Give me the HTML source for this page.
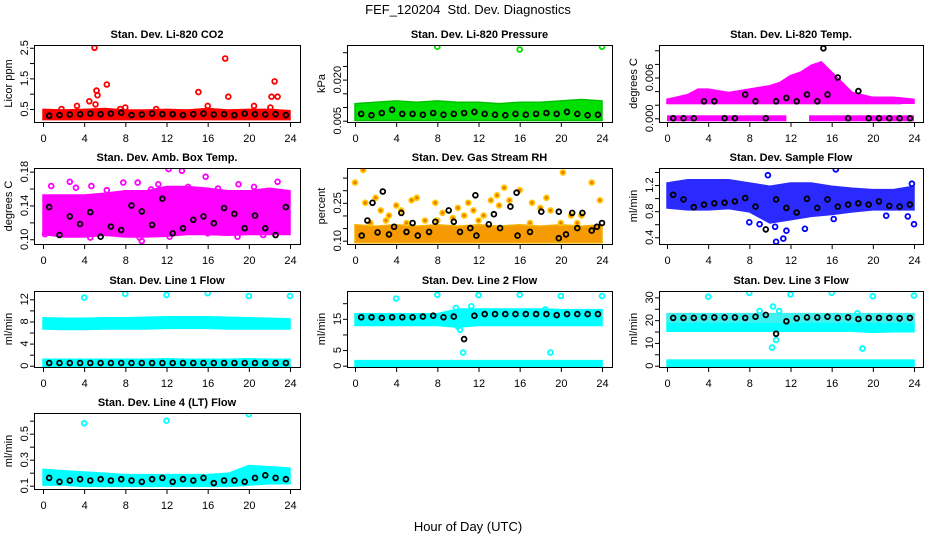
<!DOCTYPE html>
<html><head><meta charset="utf-8">
<style>
html,body{margin:0;padding:0;background:#fff;}
svg{display:block;font-family:"Liberation Sans",sans-serif;}
</style></head>
<body>
<svg id="chart" width="936" height="540" viewBox="0 0 936 540" xmlns="http://www.w3.org/2000/svg">
<text x="468" y="14" text-anchor="middle" font-size="13" style="white-space:pre">FEF_120204  Std. Dev. Diagnostics</text>
<text x="468" y="531" text-anchor="middle" font-size="13">Hour of Day (UTC)</text>
</svg>
<script>
const bandHours = [0,2,4,6,8,10,12,14,16,18,20,22,24];
const blackHours = [0.6,1.6,2.6,3.6,4.6,5.6,6.6,7.6,8.6,9.6,10.6,11.6,12.6,13.6,14.6,15.6,16.6,17.6,18.6,19.6,20.6,21.6,22.6,23.6];
const xTicks = [0,4,8,12,16,20,24];

// CO2
const co2Lo = [0.22,0.22,0.22,0.22,0.22,0.22,0.22,0.22,0.22,0.22,0.22,0.22,0.22];
const co2Hi = [0.42,0.4,0.42,0.45,0.4,0.4,0.42,0.4,0.45,0.4,0.42,0.42,0.38];
const co2Black = [0.28,0.3,0.32,0.33,0.35,0.33,0.35,0.38,0.3,0.32,0.35,0.33,0.33,0.3,0.33,0.35,0.32,0.33,0.3,0.35,0.33,0.32,0.33,0.3];
const co2OutX = [5,17.7,22.5,6.2,5.2,5.3,15.1,18,22.2,22.8,4.5,5.1,3.3,16,20.5,22.1,8,7.5,1.8,11];
const co2OutY = [2.5,2.15,1.4,1.3,1.1,0.95,1.05,0.9,0.9,0.9,0.75,0.65,0.6,0.6,0.6,0.55,0.55,0.5,0.5,0.5];

// Pressure
const presLo = [0.0058,0.0058,0.0058,0.0058,0.0058,0.0058,0.0058,0.0058,0.0058,0.0058,0.0058,0.0058,0.0058];
const presHi = [0.0105,0.011,0.0115,0.011,0.0115,0.011,0.011,0.0105,0.011,0.011,0.0115,0.012,0.0115];
const presBlack = [0.0075,0.007,0.0078,0.009,0.0075,0.0075,0.0072,0.0078,0.0072,0.0075,0.0078,0.0082,0.0075,0.0072,0.007,0.0075,0.0072,0.0075,0.0078,0.0075,0.0082,0.0075,0.007,0.0072];
const presOutX = [8,16,24];
const presOutY = [0.032,0.031,0.032];

// Li-820 Temp
const tempZeroStart = [0,13.8];
const tempZeroEnd = [11.6,24];
const tempMidStart = [0];
const tempMidEnd = [22.8];
const tempMidLevel = [0.0025];
const tempCloudX = [0,2,3,4,6,8,10,11,12,13,14,15,16,17,18,20,22,24];
const tempCloudHi = [0.0025,0.0032,0.004,0.004,0.0035,0.004,0.0045,0.005,0.006,0.0065,0.0075,0.008,0.0065,0.005,0.0035,0.0028,0.0028,0.0025];
const tempCloudLo = [0.0025,0.0025,0.0025,0.0025,0.0025,0.0025,0.0025,0.0025,0.0025,0.0025,0.0025,0.0025,0.0025,0.0025,0.0025,0.0025,0.0025,0.0025];
const tempBlack = [0,0,0,0.0025,0.0025,0,0,0.0035,0.0025,0,0.0025,0.003,0.0025,0.0035,0.0025,0.0035,0.006,0,0.004,0,0,0,0,0];
const tempOutX = [15.2];
const tempOutY = [0.0103];

// Amb box temp
const ambLo = [0.108,0.105,0.105,0.107,0.105,0.105,0.106,0.108,0.108,0.107,0.108,0.108,0.108];
const ambHi = [0.15,0.15,0.15,0.152,0.155,0.155,0.16,0.16,0.158,0.155,0.155,0.158,0.155];
const ambOutX = [0.8,2.6,4.7,7.8,9.2,11.2,12.2,13.5,14.1,15.8,17,19,20.5,22.8,9.6,9.4,12.3,18.9,4.6,0.2,21.4,16,3.2,6.2,10.5];
const ambOutY = [0.163,0.168,0.163,0.167,0.167,0.165,0.183,0.181,0.162,0.174,0.16,0.165,0.162,0.168,0.098,0.102,0.103,0.103,0.102,0.106,0.105,0.107,0.161,0.158,0.159];
const ambBlack = [0.138,0.105,0.127,0.118,0.132,0.103,0.115,0.111,0.14,0.133,0.117,0.148,0.107,0.113,0.123,0.127,0.119,0.137,0.13,0.113,0.128,0.113,0.105,0.138];

// Gas RH
const rhLo = [0.1,0.1,0.1,0.1,0.1,0.1,0.1,0.1,0.1,0.1,0.1,0.1,0.1];
const rhHi = [0.155,0.15,0.155,0.15,0.155,0.15,0.155,0.15,0.155,0.15,0.155,0.15,0.155];
const rhOutX = [0.8,0,20.2,23,14.5,16,1,2,2.5,3.3,4,4.5,5.5,6,7.8,8.5,9.5,10,11,11.5,12.5,13.2,14,15,17.2,18,19,21,22,23.8,3,6.8,8,12,17,20,21.6,1.5,5,13.8,18.6,10.6];
const rhOutY = [0.38,0.33,0.37,0.33,0.31,0.30,0.25,0.27,0.22,0.2,0.24,0.22,0.26,0.27,0.25,0.21,0.19,0.23,0.25,0.22,0.2,0.26,0.24,0.26,0.25,0.23,0.22,0.2,0.2,0.26,0.18,0.18,0.18,0.18,0.17,0.17,0.17,0.17,0.17,0.28,0.27,0.2];
const rhBlackX = [0.65,1.2,1.7,2.7,2.2,3.3,3.8,4.5,5,5.6,6.1,7.2,7.8,9.1,9.6,10.2,11.2,11.7,11.8,13,13.5,14.1,15.7,15.8,15.1,17,18.1,19.8,19.8,20.5,21.1,22.1,21.6,23,23.5,24];
const rhBlackY = [0.12,0.18,0.25,0.295,0.133,0.125,0.155,0.21,0.135,0.17,0.12,0.135,0.175,0.22,0.175,0.135,0.15,0.28,0.12,0.165,0.205,0.15,0.29,0.12,0.235,0.135,0.215,0.215,0.11,0.125,0.21,0.21,0.15,0.14,0.155,0.17];

// Sample flow
const sfLo = [0.88,0.85,0.85,0.87,0.82,0.65,0.7,0.75,0.78,0.82,0.85,0.85,0.85];
const sfHi = [1.2,1.25,1.25,1.25,1.2,1.15,1.2,1.2,1.15,1.12,1.1,1.1,1.15];
const sfOutX = [9.8,16.4,10.6,11.3,11.6,13.4,8,24,9,16.2,21.3,23.4,10.5,23.8];
const sfOutY = [1.35,1.44,0.33,0.38,0.5,0.53,0.63,0.6,0.6,0.68,0.73,0.72,0.56,1.22];
const sfBlack = [1.05,0.98,0.86,0.9,0.92,0.93,0.95,1.0,0.87,0.52,0.98,0.85,0.78,0.99,0.85,0.98,0.87,0.9,0.92,0.9,0.95,0.88,0.87,0.9];

// Line 1
const l1Lo = [7.0,6.9,6.9,7.0,7.0,7.0,7.1,7.1,7.1,7.0,7.0,7.0,7.0];
const l1Hi = [8.3,8.2,8.2,8.3,8.3,8.4,8.5,8.5,8.5,8.4,8.3,8.2,8.1];
const l1ZeroLo = [0,0,0,0,0,0,0,0,0,0,0,0,0];
const l1ZeroHi = [0.8,0.8,0.8,0.8,0.8,0.8,0.9,0.8,0.8,0.8,0.9,0.8,0.8];
const l1OutX = [4,8,12,16,20,24];
const l1OutY = [12.3,13,12.8,13.1,12.6,12.6];
const l1Black = [0.5,0.5,0.5,0.5,0.5,0.5,0.5,0.5,0.5,0.5,0.5,0.5,0.5,0.5,0.5,0.5,0.5,0.5,0.5,0.5,0.5,0.5,0.5,0.5];

// Line 2
const l2Lo = [13.5,13.5,13.5,13.5,13.5,13,13.5,13.5,13.5,13.5,13.5,13.5,13.5];
const l2Hi = [16,16,16,16,16,17.5,17.5,17.5,17.5,17.5,17.3,17.3,17.3];
const l2ZeroLo = [0,0,0,0,0,0,0,0,0,0,0,0,0];
const l2ZeroHi = [1.0,1.0,1.0,1.0,1.0,1.0,1.0,1.0,1.0,1.0,1.0,1.0,1.0];
const l2OutX = [4,8,12,16,20,24,10.5,19,10.2,10,11.3,9.8,18.5];
const l2OutY = [21.5,22.7,22.6,22.7,22.3,22.3,4.2,4.2,11.5,12.5,19,18.5,18];
const l2Black = [15.5,15.5,15.3,15.5,15.5,15.5,15.7,16,15.5,15.7,8.5,16,16.5,16.5,16.5,16.5,16.5,16.5,16.5,16.2,16.5,16.5,16.5,16.5];

// Line 3
const l3Lo = [16,16,16,16,16,16,16,16,16,16,15.5,15.8,15.8];
const l3Hi = [18.3,18.3,18.3,18.3,18.3,18.5,18.5,18.5,18.5,18.3,18.3,18.3,18.3];
const l3ZeroLo = [0.5,0.5,0.5,0.5,0.5,0.5,0.5,0.5,0.5,0.5,0.5,0.5,0.5];
const l3ZeroHi = [1.6,1.6,1.6,1.6,1.6,1.6,1.6,1.6,1.6,1.6,1.6,1.6,1.6];
const l3UpLo = [20,20,20,20,20,20,20,20,20,20,20,20,20];
const l3UpHi = [22,22,22,22,22,22,22,22,22,22,22,22,22];
const l3OutX = [4,8,12,16,20,24,10.2,10.6,10.3,10.9,19,9,18.5];
const l3OutY = [30.3,32,31.3,32,30.5,30.8,8,11.3,26,24,7.5,24,23];
const l3Black = [21,21,21,21.2,21.2,21.2,21.2,21,21.5,22.3,14,19.5,20.8,21.2,21.2,21.5,21,21.2,20.5,21,21,21,20.8,21];

// Line 4
const l4Lo = [0.12,0.12,0.11,0.11,0.11,0.11,0.11,0.11,0.11,0.11,0.12,0.13,0.13];
const l4Hi = [0.21,0.2,0.19,0.18,0.17,0.17,0.17,0.17,0.17,0.18,0.24,0.23,0.22];
const l4OutX = [4,12,20];
const l4OutY = [0.58,0.6,0.65];
const l4Black = [0.16,0.13,0.14,0.15,0.14,0.15,0.14,0.15,0.14,0.13,0.15,0.16,0.13,0.15,0.14,0.16,0.12,0.14,0.14,0.13,0.16,0.18,0.16,0.15];

const svg = document.getElementById('chart');
const NS = 'http://www.w3.org/2000/svg';
const cols = [[34,300,43,290],[347,612,355,602],[659,923,667,914]];
const rows = [[45,122],[168,244],[291,367],[413,489]];

function mk(tag, attrs, parent){
  const e = document.createElementNS(NS, tag);
  for (const k in attrs) e.setAttribute(k, attrs[k]);
  (parent||svg).appendChild(e);
  return e;
}
function fmt(v, d){ return v.toFixed(d); }

function panel(p){
  const c = cols[p.col], r = rows[p.row];
  const g = mk('g', {});
  
  
  const sx = h => c[2] + h*(c[3]-c[2])/24;
  const sy = v => r[1] - (v - p.ymin)/(p.ymax - p.ymin)*(r[1]-r[0]);
  const cid = 'clip-' + p.name;
  const cp = mk('clipPath', {id: cid}, g);
  mk('rect', {x: c[0], y: r[0], width: c[1]-c[0], height: r[1]-r[0]}, cp);
  const plot = mk('g', {'clip-path': 'url(#' + cid + ')'}, g);
  (p.bands||[]).forEach((b, bi) => {
    let d = '';
    b.x.forEach((h,i) => { d += (i ? 'L' : 'M') + sx(h).toFixed(1) + ' ' + (sy(b.hi[i]) - 2).toFixed(1); });
    for (let i = b.x.length - 1; i >= 0; i--) d += 'L' + sx(b.x[i]).toFixed(1) + ' ' + (sy(b.lo[i]) + 2).toFixed(1);
    const e = mk('path', {d: d + 'Z', fill: b.color, stroke: b.stroke || b.color, 'stroke-width': 1.5}, plot);
    
    
  });
  (p.lines||[]).forEach(l => {
    l.start.forEach((s, i) => {
      const e = mk('rect', {x: sx(s), y: sy(l.level[i] !== undefined ? l.level[i] : l.level[0]) - 3, width: sx(l.end[i]) - sx(s), height: 6, fill: l.color}, plot);
      
      
    });
  });
  (p.points||[]).forEach(s => {
    s.x.forEach((h, i) => {
      const e = mk('circle', {cx: sx(h).toFixed(1), cy: sy(s.y[i]).toFixed(1), r: 2.4, fill: s.fill || 'none', stroke: s.color, 'stroke-width': 1.8}, plot);
      
      
    });
  });
  const box = mk('rect', {x: c[0]+0.5, y: r[0]+0.5, width: c[1]-c[0], height: r[1]-r[0], fill: 'none', stroke: '#000', 'stroke-width': 1}, g);
  
  
  mk('line', {x1: sx(0), x2: sx(24), y1: r[1]+0.5, y2: r[1]+0.5, stroke: '#000'}, g);
  xTicks.forEach(t => {
    mk('line', {x1: sx(t)+0.5, x2: sx(t)+0.5, y1: r[1], y2: r[1]+5, stroke: '#000'}, g);
    const tx = mk('text', {x: sx(t)+0.5, y: r[1]+20, 'text-anchor': 'middle', 'font-size': 11}, g);
    tx.textContent = t;
    
    
  });
  p.ticks.forEach(t => {
    mk('line', {x1: c[0]-4, x2: c[0], y1: sy(t)+0.5, y2: sy(t)+0.5, stroke: '#000'}, g);
  });
  p.labels.forEach(t => {
    const y = sy(t), x = c[0]-6;
    const tx = mk('text', {x: x, y: y, 'text-anchor': 'middle', 'font-size': 11, transform: 'rotate(-90 ' + x + ' ' + y + ')'}, g);
    tx.textContent = fmt(t, p.dec);
    
    
  });
  const ym = (r[0]+r[1])/2, yx = c[0]-22;
  const yt = mk('text', {x: yx, y: ym, 'text-anchor': 'middle', 'font-size': 11, transform: 'rotate(-90 ' + yx + ' ' + ym + ')'}, g);
  yt.textContent = p.ylabel;
  
  
  const tt = mk('text', {x: (c[0]+c[1])/2, y: r[0]-7, 'text-anchor': 'middle', 'font-size': 11, 'font-weight': 'bold'}, g);
  tt.textContent = p.title;
  
  
}

const blk = (x, y) => ({x: x, y: y, color: '#000', label: 'hourly-mean-point'});

panel({name:'co2', col:0, row:0, ymin:0.075, ymax:2.59, ticks:[0.5,1,1.5,2,2.5], labels:[0.5,1.5,2.5], dec:1,
  ylabel:'Licor ppm', title:'Stan. Dev. Li-820 CO2',
  bands:[{x:bandHours, lo:co2Lo, hi:co2Hi, color:'#ff0000'}],
  points:[{x:co2OutX, y:co2OutY, color:'#ff0000', label:'co2-outlier'}, blk(blackHours, co2Black)]});

panel({name:'pressure', col:1, row:0, ymin:0.00453, ymax:0.03263, ticks:[0.005,0.01,0.015,0.02,0.025,0.03], labels:[0.005,0.02], dec:3,
  ylabel:'kPa', title:'Stan. Dev. Li-820 Pressure',
  bands:[{x:bandHours, lo:presLo, hi:presHi, color:'#00e000', stroke:'#00c000'}],
  points:[{x:presOutX, y:presOutY, color:'#00dd00', label:'pressure-outlier'}, blk(blackHours, presBlack)]});

panel({name:'li820-temp', col:2, row:0, ymin:-0.00054, ymax:0.01078, ticks:[0,0.002,0.004,0.006,0.008,0.01], labels:[0,0.006], dec:3,
  ylabel:'degrees C', title:'Stan. Dev. Li-820 Temp.',
  bands:[{x:tempCloudX, lo:tempCloudLo, hi:tempCloudHi, color:'#ff00ff'}],
  lines:[{start:tempZeroStart, end:tempZeroEnd, level:[0,0], color:'#ff00ff'},{start:tempMidStart, end:tempMidEnd, level:tempMidLevel, color:'#ff00ff'}],
  points:[blk(blackHours, tempBlack), {x:tempOutX, y:tempOutY, color:'#000', label:'temp-outlier'}]});

panel({name:'amb-box-temp', col:0, row:1, ymin:0.0944, ymax:0.1843, ticks:[0.1,0.12,0.14,0.16,0.18], labels:[0.1,0.14,0.18], dec:2,
  ylabel:'degrees C', title:'Stan. Dev. Amb. Box Temp.',
  bands:[{x:bandHours, lo:ambLo, hi:ambHi, color:'#ff00ff'}],
  points:[{x:ambOutX, y:ambOutY, color:'#ff00ff', label:'amb-temp-outlier'}, blk(blackHours, ambBlack)]});

panel({name:'gas-rh', col:1, row:1, ymin:0.0869, ymax:0.388, ticks:[0.1,0.15,0.2,0.25,0.3,0.35], labels:[0.1,0.25], dec:2,
  ylabel:'percent', title:'Stan. Dev. Gas Stream RH',
  bands:[{x:bandHours, lo:rhLo, hi:rhHi, color:'#f59a00', stroke:'#f5b000'}],
  points:[{x:rhOutX, y:rhOutY, color:'#ffc800', fill:'#f07000', label:'rh-outlier'}, {x:rhBlackX, y:rhBlackY, color:'#000', label:'hourly-mean-point'}]});

panel({name:'sample-flow', col:2, row:1, ymin:0.297, ymax:1.461, ticks:[0.4,0.6,0.8,1.0,1.2,1.4], labels:[0.4,0.8,1.2], dec:1,
  ylabel:'ml/min', title:'Stan. Dev. Sample Flow',
  bands:[{x:bandHours, lo:sfLo, hi:sfHi, color:'#2a2aff', stroke:'#2a2aff'}],
  points:[{x:sfOutX, y:sfOutY, color:'#0000ff', label:'sample-flow-outlier'}, blk(blackHours, sfBlack)]});

panel({name:'line1-flow', col:0, row:2, ymin:-0.23, ymax:13.5, ticks:[0,2,4,6,8,10,12], labels:[0,4,8,12], dec:0,
  ylabel:'ml/min', title:'Stan. Dev. Line 1 Flow',
  bands:[{x:bandHours, lo:l1Lo, hi:l1Hi, color:'#00ffff'},{x:bandHours, lo:l1ZeroLo, hi:l1ZeroHi, color:'#00ffff'}],
  points:[{x:l1OutX, y:l1OutY, color:'#00ffff', label:'line1-outlier'}, blk(blackHours, l1Black)]});

panel({name:'line2-flow', col:1, row:2, ymin:-0.42, ymax:23.9, ticks:[0,5,10,15,20], labels:[0,5,15], dec:0,
  ylabel:'ml/min', title:'Stan. Dev. Line 2 Flow',
  bands:[{x:bandHours, lo:l2Lo, hi:l2Hi, color:'#00ffff'},{x:bandHours, lo:l2ZeroLo, hi:l2ZeroHi, color:'#00ffff'}],
  points:[{x:l2OutX, y:l2OutY, color:'#00ffff', label:'line2-outlier'}, blk(blackHours, l2Black)]});

panel({name:'line3-flow', col:2, row:2, ymin:-0.57, ymax:32.8, ticks:[0,5,10,15,20,25,30], labels:[0,10,20,30], dec:0,
  ylabel:'ml/min', title:'Stan. Dev. Line 3 Flow',
  bands:[{x:bandHours, lo:l3Lo, hi:l3Hi, color:'#00ffff'},{x:bandHours, lo:l3ZeroLo, hi:l3ZeroHi, color:'#00ffff'},{x:bandHours, lo:l3UpLo, hi:l3UpHi, color:'#40f0f0'}],
  points:[{x:l3OutX, y:l3OutY, color:'#00ffff', label:'line3-outlier'}, blk(blackHours, l3Black)]});

panel({name:'line4-flow', col:0, row:3, ymin:0.0746, ymax:0.659, ticks:[0.1,0.2,0.3,0.4,0.5,0.6], labels:[0.1,0.3,0.5], dec:1,
  ylabel:'ml/min', title:'Stan. Dev. Line 4 (LT) Flow',
  bands:[{x:bandHours, lo:l4Lo, hi:l4Hi, color:'#00ffff'}],
  points:[{x:l4OutX, y:l4OutY, color:'#00ffff', label:'line4-outlier'}, blk(blackHours, l4Black)]});
</script>
</body></html>
